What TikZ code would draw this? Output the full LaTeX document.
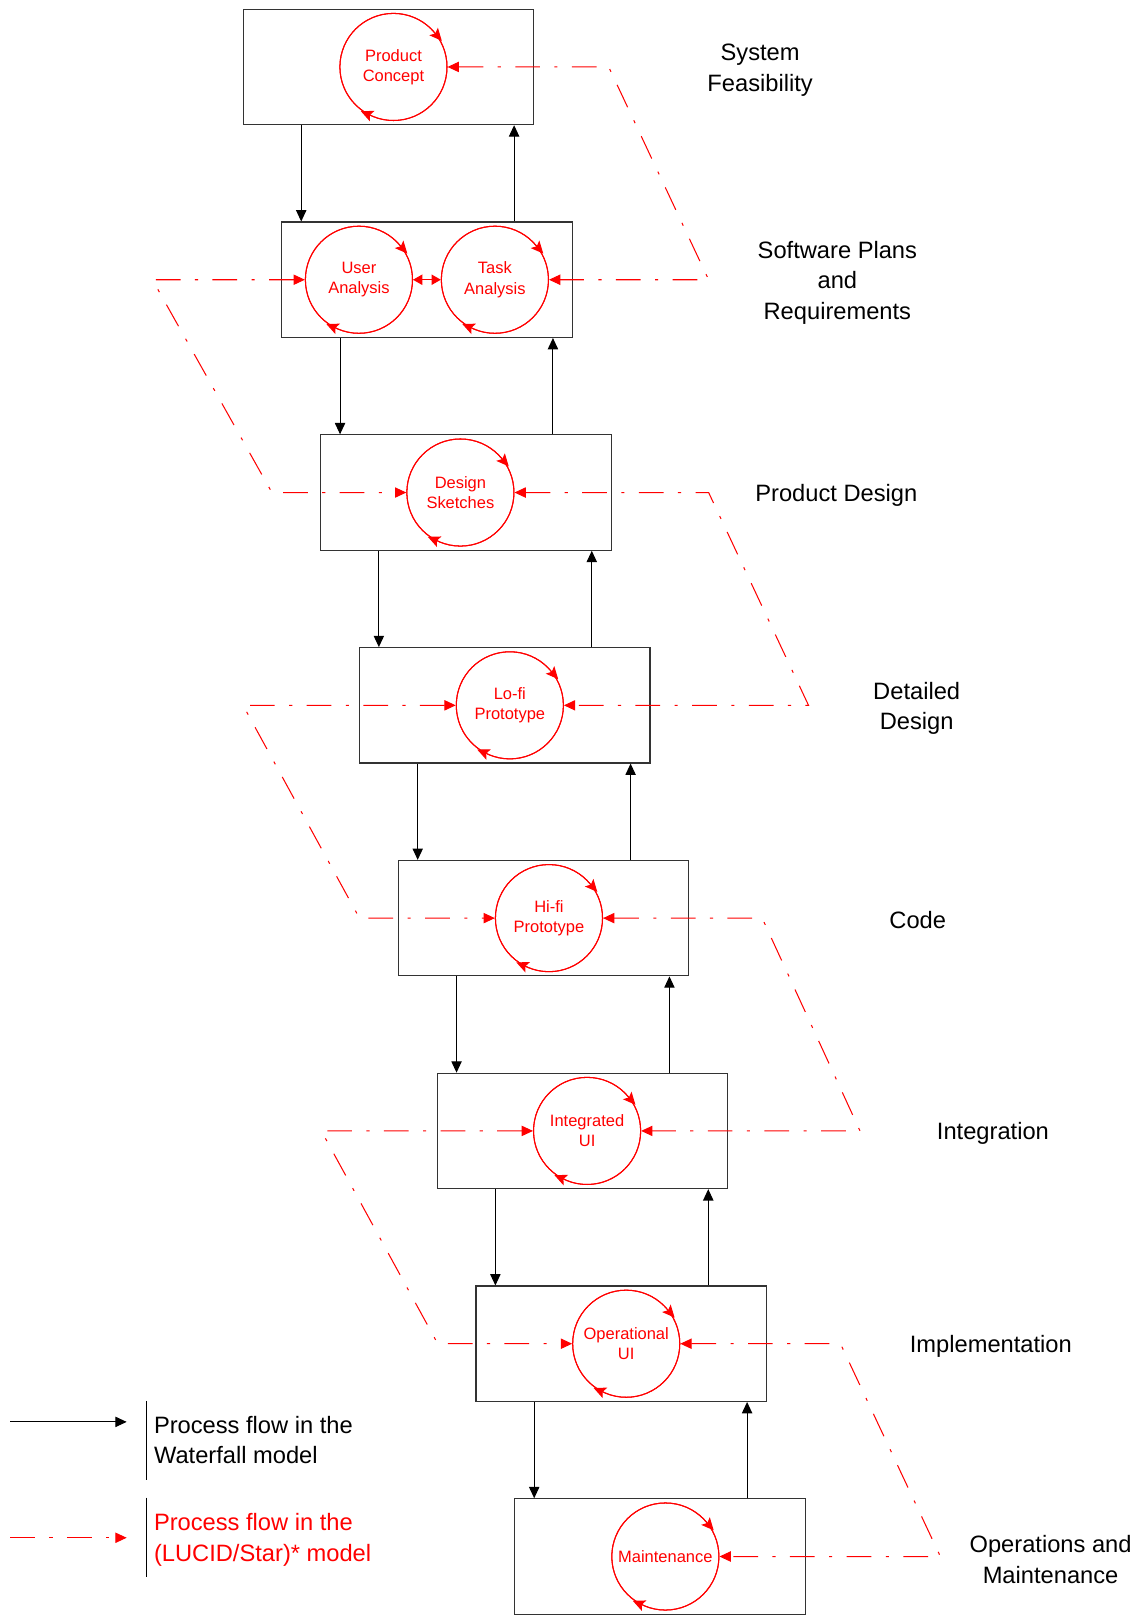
\documentclass[tikz,border=0pt]{standalone}
\usepackage{fontspec}
\setmainfont{Liberation Sans}
\usetikzlibrary{arrows.meta,decorations.markings,calc}
\tikzset{
  box/.style={draw=black!80, line width=1.1pt, minimum width=282pt, minimum height=112pt, inner sep=0pt},
  circ/.style={circle, draw=red, line width=1pt, minimum size=104pt, inner sep=0pt, text=red,
    font=\fontsize{16}{19.5}\selectfont, align=center},
  wf/.style={draw=black, line width=1pt, -{Triangle[length=11pt,width=10pt]}},
  lucid/.style={draw=red, line width=1pt, dash pattern=on 24pt off 14pt on 3pt off 14pt,
    {Triangle[length=11pt,width=10pt]}-{Triangle[length=11pt,width=10pt]}},
  lbl/.style={font=\fontsize{23}{30}\selectfont, align=center},
  leg/.style={font=\fontsize{23}{29.8}\selectfont, align=left, anchor=west},
  cyc/.style={draw=red, line width=1pt, postaction={decorate}, decoration={markings,
    mark=at position 0.115 with {\arrow{Stealth[length=12pt,width=11pt,inset=2.5pt,reversed,color=red,fill=red]}},
    mark=at position 0.685 with {\arrow{Stealth[length=12pt,width=11pt,inset=2.5pt,reversed,color=red,fill=red]}}}}
}
\begin{document}
\begin{tikzpicture}[x=1pt,y=1pt]
\useasboundingbox (0,0) rectangle (1114,-1568);

% boxes
\foreach \i in {1,...,8}
  \node[box] (b\i) at ({377+37.7*(\i-1)}, {-65-206.6*(\i-1)}) {};

% circles
\node[circ] (c1) at (382,-65) {Product\\Concept};
\node[circ] (c2a) at (348.5,-271.6) {User\\Analysis};
\node[circ] (c2b) at (480.5,-271.6) {Task\\Analysis};
\node[circ] (c3) at (447,-478.2) {Design\\Sketches};
\node[circ] (c4) at (495,-684.8) {Lo-fi\\Prototype};
\node[circ] (c5) at (533,-891.4) {Hi-fi\\Prototype};
\node[circ] (c6) at (570,-1098) {Integrated\\UI};
\node[circ] (c7) at (608,-1304.6) {Operational\\UI};
\node[circ] (c8) at (646,-1511.2) {Maintenance};
\foreach \n in {c1,c2a,c2b,c3,c4,c5,c6,c7,c8}
  \path[cyc] (\n.center) circle[radius=52pt];

% waterfall arrows
\foreach \i [evaluate=\i as \j using int(\i+1)] in {1,...,7} {
  \path ($(b\i.south west)+(57,0)$) coordinate (d\i);
  \path ($(b\j.north west)+(226,0)$) coordinate (u\i);
  \draw[wf] (d\i) -- (d\i |- b\j.north);
  \draw[wf] (u\i) -- (u\i |- b\i.south);
}

% LUCID/Star flow
\coordinate (a1) at (591,-65);     \coordinate (a2) at (688,-271.6);
\coordinate (p1) at (148,-271.6);  \coordinate (p2) at (264,-478.2);
\coordinate (q1) at (688,-478.2);  \coordinate (q2) at (785,-684.8);
\coordinate (r1) at (236,-684.8);  \coordinate (r2) at (349,-891.4);
\coordinate (s1) at (740,-891.4);  \coordinate (s2) at (835,-1098);
\coordinate (t1) at (312,-1098);   \coordinate (t2) at (425,-1304.6);
\coordinate (v1) at (816,-1304.6); \coordinate (v2) at (913,-1511.2);
\draw[lucid] (c1.east) -- (a1) -- (a2) -- (c2b.east);
\draw[lucid] (c2a.west) -- (p1) -- (p2) -- (c3.west);
\draw[lucid] (c3.east) -- (q1) -- (q2) -- (c4.east);
\draw[lucid] (c4.west) -- (r1) -- (r2) -- (c5.west);
\draw[lucid] (c5.east) -- (s1) -- (s2) -- (c6.east);
\draw[lucid] (c6.west) -- (t1) -- (t2) -- (c7.west);
\draw[lucid] (c7.east) -- (v1) -- (v2) -- (c8.east);
\draw[red, line width=1pt, {Triangle[length=9pt,width=10pt]}-{Triangle[length=9pt,width=10pt]}] (c2a.east) -- (c2b.west);

% phase labels
\node[lbl] (L1) at (738,-68) {System\\Feasibility};
\node[lbl] (L2) at (813,-274.6) {Software Plans\\and\\Requirements};
\node[lbl] (L3) at (812,-481.2) {Product Design};
\node[lbl] (L4) at (890,-687.8) {Detailed\\Design};
\node[lbl] (L5) at (891,-893.4) {Code};
\node[lbl] (L6) at (964,-1100) {Integration};
\node[lbl] (L7) at (962,-1307) {Implementation};
\node[lbl] (L8) at (1020,-1514) {Operations and\\Maintenance};

% legend
\coordinate (g1) at (10,-1380.5);  \coordinate (g2) at (123,-1380.5);
\coordinate (h1) at (10,-1493);    \coordinate (h2) at (123,-1493);
\draw[wf] (g1) -- (g2);
\draw[draw=red, line width=1pt, dash pattern=on 24pt off 14pt on 3pt off 14pt, -{Triangle[length=11pt,width=10pt]}] (h1) -- (h2);
\draw[black, line width=1pt] (142.5,-1360) -- (142.5,-1437);
\draw[black, line width=1pt] (142.5,-1454) -- (142.5,-1531);
\node[leg] (T1) at (146,-1398) {Process flow in the\\Waterfall model};
\node[leg, text=red] (T2) at (146,-1495) {Process flow in the\\(LUCID/Star)* model};
\end{tikzpicture}
\end{document}
